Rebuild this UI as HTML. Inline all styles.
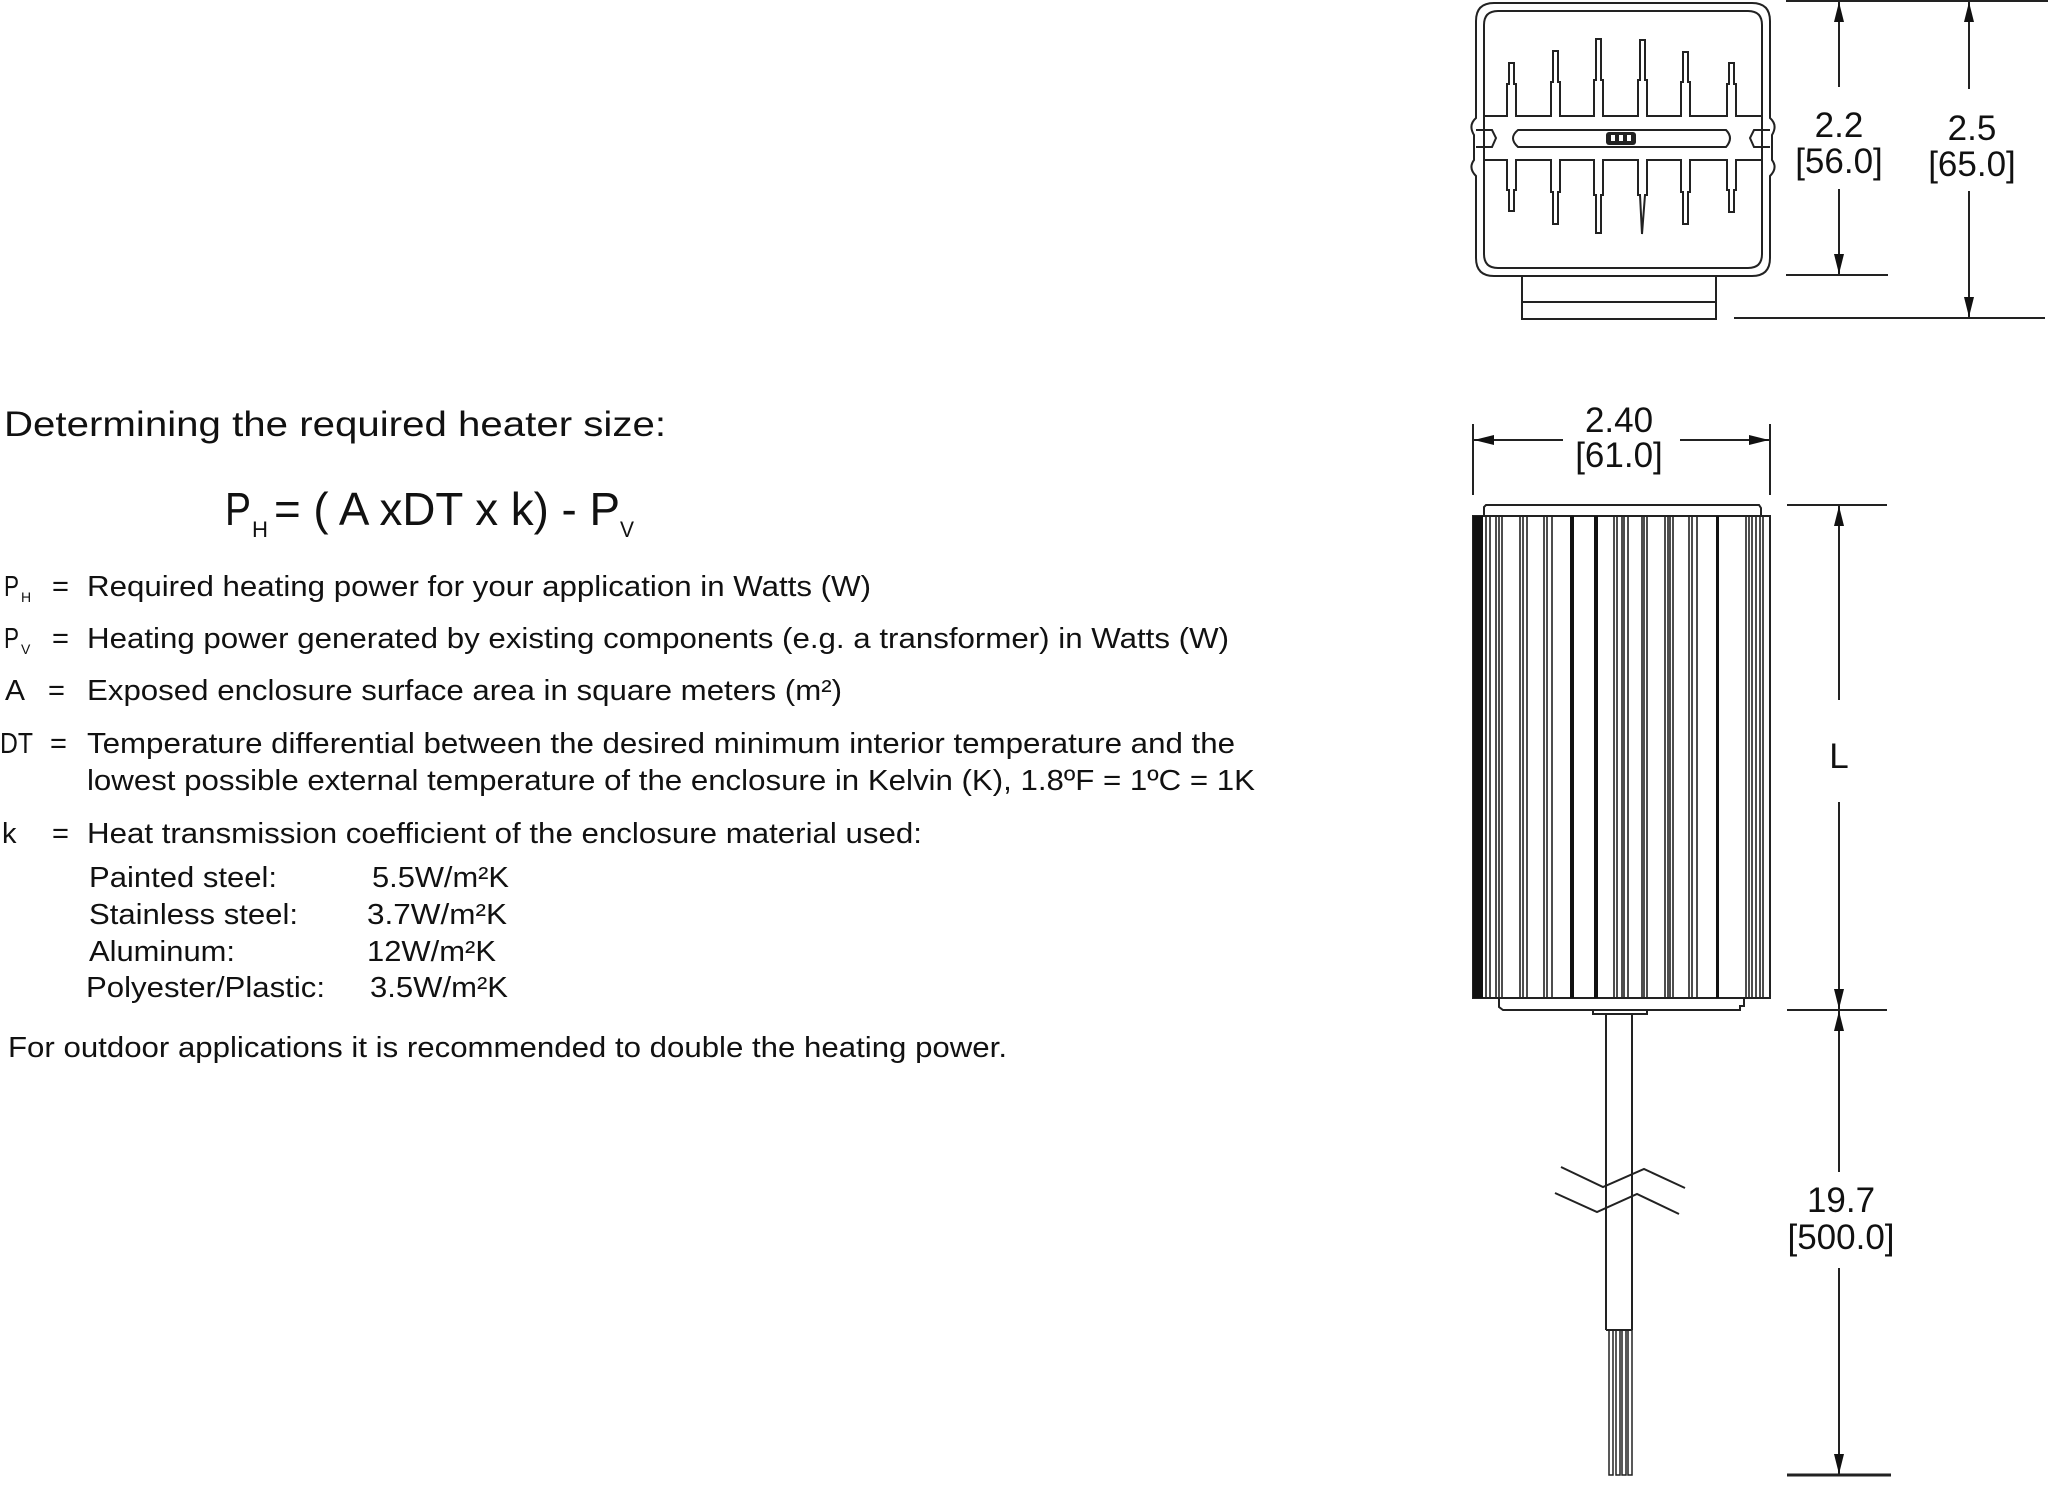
<!DOCTYPE html>
<html><head><meta charset="utf-8"><style>
html,body{margin:0;padding:0;background:#fff;}
svg{display:block;}
text{font-family:"Liberation Sans",Arial,sans-serif;fill:#111;}
</style></head><body>
<svg width="2048" height="1486" viewBox="0 0 2048 1486" xmlns="http://www.w3.org/2000/svg">
<defs>
<marker id="a" viewBox="0 0 20 10" refX="20" refY="5" markerWidth="20" markerHeight="10" markerUnits="userSpaceOnUse" orient="auto"><path d="M0,0 L20,5 L0,10 z" fill="#111"/></marker>
</defs>

<text x="4" y="436" font-size="35" textLength="662" lengthAdjust="spacingAndGlyphs">Determining the required heater size:</text>

<text x="225" y="525" font-size="46" textLength="26" lengthAdjust="spacingAndGlyphs">P</text>
<text x="252" y="537" font-size="22" textLength="16" lengthAdjust="spacingAndGlyphs">H</text>
<text x="274" y="525" font-size="46" textLength="346" lengthAdjust="spacingAndGlyphs">= ( A xDT x k) - P</text>
<text x="620" y="537" font-size="22" textLength="14" lengthAdjust="spacingAndGlyphs">V</text>

<g font-size="29">
<text x="4" y="596" textLength="15" lengthAdjust="spacingAndGlyphs">P</text>
<text x="21" y="602" font-size="14">H</text>
<text x="52" y="596">=</text>
<text x="87" y="596" textLength="784" lengthAdjust="spacingAndGlyphs">Required heating power for your application in Watts (W)</text>

<text x="4" y="648" textLength="15" lengthAdjust="spacingAndGlyphs">P</text>
<text x="21" y="654" font-size="14">V</text>
<text x="52" y="648">=</text>
<text x="87" y="648" textLength="1142" lengthAdjust="spacingAndGlyphs">Heating power generated by existing components (e.g. a transformer) in Watts (W)</text>

<text x="5" y="700" textLength="20" lengthAdjust="spacingAndGlyphs">A</text>
<text x="48" y="700">=</text>
<text x="87" y="700" textLength="755" lengthAdjust="spacingAndGlyphs">Exposed enclosure surface area in square meters (m²)</text>

<text x="0" y="753" textLength="33" lengthAdjust="spacingAndGlyphs">DT</text>
<text x="50" y="753">=</text>
<text x="87" y="753" textLength="1148" lengthAdjust="spacingAndGlyphs">Temperature differential between the desired minimum interior temperature and the</text>
<text x="87" y="790" textLength="1168" lengthAdjust="spacingAndGlyphs">lowest possible external temperature of the enclosure in Kelvin (K), 1.8ºF = 1ºC = 1K</text>

<text x="2" y="843">k</text>
<text x="52" y="843">=</text>
<text x="87" y="843" textLength="835" lengthAdjust="spacingAndGlyphs">Heat transmission coefficient of the enclosure material used:</text>

<text x="89" y="887" textLength="188" lengthAdjust="spacingAndGlyphs">Painted steel:</text>
<text x="372" y="887" textLength="137" lengthAdjust="spacingAndGlyphs">5.5W/m²K</text>
<text x="89" y="924" textLength="209" lengthAdjust="spacingAndGlyphs">Stainless steel:</text>
<text x="367" y="924" textLength="140" lengthAdjust="spacingAndGlyphs">3.7W/m²K</text>
<text x="89" y="961" textLength="146" lengthAdjust="spacingAndGlyphs">Aluminum:</text>
<text x="367" y="961" textLength="129" lengthAdjust="spacingAndGlyphs">12W/m²K</text>
<text x="86" y="997" textLength="239" lengthAdjust="spacingAndGlyphs">Polyester/Plastic:</text>
<text x="370" y="997" textLength="138" lengthAdjust="spacingAndGlyphs">3.5W/m²K</text>

<text x="8" y="1057" textLength="999" lengthAdjust="spacingAndGlyphs">For outdoor applications it is recommended to double the heating power.</text>
</g>

<g fill="none" stroke="#222" stroke-width="2">
<path d="M1494,3 L1752,3 Q1770,3 1770,21 L1770,118 Q1778,125 1772,135 L1772,160 Q1778,168 1770,176 L1770,258 Q1770,276 1752,276 L1494,276 Q1476,276 1476,258 L1476,176 Q1468,168 1474,160 L1474,135 Q1468,125 1476,118 L1476,21 Q1476,3 1494,3 Z"/>
<path d="M1498,11 L1748,11 Q1762,11 1762,25 L1762,114 L1762,181 L1762,254 Q1762,268 1748,268 L1498,268 Q1484,268 1484,254 L1484,181 L1484,114 L1484,25 Q1484,11 1498,11 Z"/>
<path d="M1484,116 L1507,116 L1507,84 L1509,84 L1509,63 L1514,63 L1514,84 L1516,84 L1516,116
 L1551,116 L1551,82 L1553,82 L1553,51 L1558,51 L1558,82 L1560,82 L1560,116
 L1594,116 L1594,80 L1596,80 L1596,39 L1601,39 L1601,80 L1603,80 L1603,116
 L1638,116 L1638,80 L1640,80 L1640,40 L1645,40 L1645,80 L1647,80 L1647,116
 L1681,116 L1681,82 L1683,82 L1683,52 L1688,52 L1688,82 L1690,82 L1690,116
 L1727,116 L1727,84 L1729,84 L1729,63 L1734,63 L1734,84 L1736,84 L1736,116 L1762,116"/>
<path d="M1484,160 L1507,160 L1507,190 L1509,190 L1509,211 L1514,211 L1514,190 L1516,190 L1516,160
 L1551,160 L1551,192 L1553,192 L1553,224 L1558,224 L1558,192 L1560,192 L1560,160
 L1594,160 L1594,195 L1596,195 L1596,233 L1601,233 L1601,195 L1603,195 L1603,160
 L1638,160 L1638,195 L1640,195 L1642,234 L1645,195 L1647,195 L1647,160
 L1681,160 L1681,192 L1683,192 L1683,224 L1688,224 L1688,192 L1690,192 L1690,160
 L1727,160 L1727,190 L1729,190 L1729,212 L1734,212 L1734,190 L1736,190 L1736,160 L1762,160"/>
<path d="M1518,130 L1726,130 Q1734,138 1726,147 L1518,147 Q1508,138 1518,130 Z"/>
<rect x="1522" y="276" width="194" height="43"/>
<line x1="1522" y1="302" x2="1716" y2="302"/>
<path d="M1476,130 L1492,130 L1496,138 L1492,147 L1476,147"/>
<path d="M1770,130 L1754,130 L1750,138 L1754,147 L1770,147"/>
</g>
<rect x="1606" y="132" width="30" height="13" rx="3" fill="#222"/>
<rect x="1611" y="135" width="4" height="6" fill="#fff"/>
<rect x="1619" y="135" width="4" height="6" fill="#fff"/>
<rect x="1627" y="135" width="4" height="6" fill="#fff"/>

<g stroke="#222" stroke-width="2" fill="none">
<line x1="1786" y1="1" x2="2048" y2="1"/>
<line x1="1786" y1="275" x2="1888" y2="275"/>
<line x1="1734" y1="318" x2="2045" y2="318"/>
<line x1="1839" y1="87" x2="1839" y2="2" marker-end="url(#a)"/>
<line x1="1839" y1="189" x2="1839" y2="274" marker-end="url(#a)"/>
<line x1="1969" y1="89" x2="1969" y2="2" marker-end="url(#a)"/>
<line x1="1969" y1="191" x2="1969" y2="317" marker-end="url(#a)"/>
</g>
<g font-size="35" text-anchor="middle">
<text x="1839" y="137">2.2</text>
<text x="1839" y="173">[56.0]</text>
<text x="1972" y="140">2.5</text>
<text x="1972" y="176">[65.0]</text>
</g>

<g stroke="#222" stroke-width="2" fill="none">
<line x1="1473" y1="424" x2="1473" y2="495"/>
<line x1="1770" y1="424" x2="1770" y2="495"/>
<line x1="1563" y1="440" x2="1474" y2="440" marker-end="url(#a)"/>
<line x1="1680" y1="440" x2="1769" y2="440" marker-end="url(#a)"/>
</g>
<g font-size="35" text-anchor="middle">
<text x="1619" y="432">2.40</text>
<text x="1619" y="467">[61.0]</text>
</g>

<g fill="none" stroke="#222" stroke-width="2">
<path d="M1484,516 L1484,507 L1486,505 L1759,505 L1761,508 L1761,516"/>
<rect x="1473" y="516" width="297" height="482"/>
<path d="M1499,998 L1499,1007 L1503,1010 L1740,1010 L1740,1006 L1744,1006 L1744,998"/>
<rect x="1593" y="1010" width="54" height="4"/>
</g>
<rect x="1473" y="516" width="10" height="482" fill="#111"/>
<g stroke="#222" stroke-width="1.6">
<line x1="1486" y1="516" x2="1486" y2="998"/><line x1="1490" y1="516" x2="1490" y2="998"/>
<line x1="1496" y1="516" x2="1496" y2="998"/><line x1="1499" y1="516" x2="1499" y2="998"/>
<line x1="1502" y1="516" x2="1502" y2="998"/><line x1="1520" y1="516" x2="1520" y2="998"/>
<line x1="1523" y1="516" x2="1523" y2="998"/><line x1="1527" y1="516" x2="1527" y2="998"/>
<line x1="1544" y1="516" x2="1544" y2="998"/><line x1="1547" y1="516" x2="1547" y2="998"/>
<line x1="1552" y1="516" x2="1552" y2="998"/>
<line x1="1614" y1="516" x2="1614" y2="998"/><line x1="1617" y1="516" x2="1617" y2="998"/>
<line x1="1622" y1="516" x2="1622" y2="998"/><line x1="1624" y1="516" x2="1624" y2="998"/>
<line x1="1628" y1="516" x2="1628" y2="998"/><line x1="1642" y1="516" x2="1642" y2="998"/>
<line x1="1644" y1="516" x2="1644" y2="998"/><line x1="1647" y1="516" x2="1647" y2="998"/>
<line x1="1665" y1="516" x2="1665" y2="998"/><line x1="1668" y1="516" x2="1668" y2="998"/>
<line x1="1670" y1="516" x2="1670" y2="998"/><line x1="1673" y1="516" x2="1673" y2="998"/>
<line x1="1689" y1="516" x2="1689" y2="998"/><line x1="1692" y1="516" x2="1692" y2="998"/>
<line x1="1697" y1="516" x2="1697" y2="998"/>
<line x1="1746" y1="516" x2="1746" y2="998"/><line x1="1749" y1="516" x2="1749" y2="998"/>
<line x1="1752" y1="516" x2="1752" y2="998"/><line x1="1756" y1="516" x2="1756" y2="998"/>
<line x1="1760" y1="516" x2="1760" y2="998"/><line x1="1763" y1="516" x2="1763" y2="998"/>
</g>
<rect x="1570" y="516" width="4" height="482" fill="#111"/>
<rect x="1594" y="516" width="4" height="482" fill="#111"/>
<rect x="1716" y="516" width="3" height="482" fill="#111"/>

<g fill="none" stroke="#222" stroke-width="2">
<line x1="1606" y1="1014" x2="1606" y2="1330"/>
<line x1="1632" y1="1014" x2="1632" y2="1330"/>
<line x1="1606" y1="1330" x2="1632" y2="1330"/>
<polyline points="1561,1167 1603,1187 1644,1169 1685,1188"/>
<polyline points="1555,1193 1597,1212 1637,1194 1679,1214"/>
</g>
<g fill="none" stroke="#222" stroke-width="1.5">
<path d="M1609,1330 L1609,1475 L1613,1475 L1613,1330"/>
<path d="M1616,1330 L1616,1475 L1620,1475 L1620,1330"/>
<path d="M1622,1330 L1622,1475 L1626,1475 L1626,1330"/>
<path d="M1628,1330 L1628,1475 L1632,1475 L1632,1330"/>
</g>

<g stroke="#222" stroke-width="2" fill="none">
<line x1="1787" y1="505" x2="1887" y2="505"/>
<line x1="1787" y1="1010" x2="1887" y2="1010"/>
<line x1="1787" y1="1475" x2="1891" y2="1475" stroke-width="3"/>
<line x1="1839" y1="700" x2="1839" y2="506" marker-end="url(#a)"/>
<line x1="1839" y1="802" x2="1839" y2="1009" marker-end="url(#a)"/>
<line x1="1839" y1="1172" x2="1839" y2="1011" marker-end="url(#a)"/>
<line x1="1839" y1="1268" x2="1839" y2="1474" marker-end="url(#a)"/>
</g>
<g font-size="35" text-anchor="middle">
<text x="1839" y="768">L</text>
<text x="1841" y="1212">19.7</text>
<text x="1841" y="1249">[500.0]</text>
</g>
</svg>
</body></html>
